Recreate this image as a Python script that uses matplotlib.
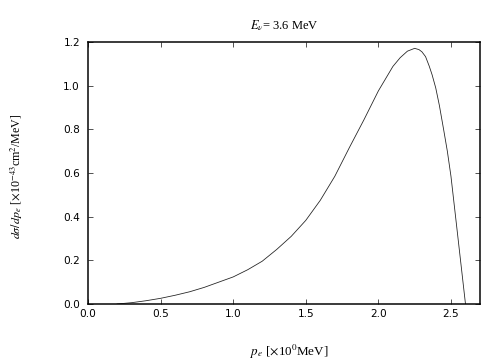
import matplotlib
matplotlib.use('Agg')
from matplotlib import pyplot as plt
from matplotlib.ticker import FormatStrFormatter

# values
p_e = [0.20, 0.30, 0.40, 0.50, 0.60, 0.70, 0.80, 0.90, 1.00, 1.10, 1.20,
       1.30, 1.40, 1.50, 1.60, 1.70, 1.80, 1.90, 2.00, 2.10, 2.15, 2.20,
       2.25, 2.28, 2.30, 2.325, 2.35, 2.37, 2.395, 2.42, 2.45, 2.475, 2.50,
       2.53, 2.565, 2.60]
dsigma = [0.0, 0.006, 0.015, 0.026, 0.040, 0.056, 0.076, 0.100, 0.124,
          0.157, 0.196, 0.250, 0.310, 0.383, 0.475, 0.585, 0.716, 0.843,
          0.976, 1.088, 1.128, 1.158, 1.171, 1.165, 1.155, 1.133, 1.090,
          1.050, 0.990, 0.910, 0.797, 0.700, 0.585, 0.410, 0.205, 0.0]
x_ticks = [0.0, 0.5, 1.0, 1.5, 2.0, 2.5]
y_ticks = [0.0, 0.2, 0.4, 0.6, 0.8, 1.0, 1.2]

plt.rcParams['mathtext.fontset'] = 'stix'

fig = plt.figure(figsize=(7, 5), dpi=72)
ax = fig.add_axes([88/504, 1 - 304/360, 392/504, 262/360])

ax.plot(p_e, dsigma, color='#222222', lw=0.8)

ax.set_xlim(0, 2.7)
ax.set_ylim(0, 1.2)
ax.set_xticks(x_ticks)
ax.set_yticks(y_ticks)
ax.xaxis.set_major_formatter(FormatStrFormatter('%.1f'))
ax.yaxis.set_major_formatter(FormatStrFormatter('%.1f'))

for s in ax.spines.values():
    s.set_linewidth(1.5)
ax.tick_params(direction='in', top=True, right=True, length=5, width=0.9,
               color='#444444', labelsize=10.5)
ax.tick_params(axis='x', pad=5)
ax.tick_params(axis='y', pad=8)
for lab in ax.get_xticklabels() + ax.get_yticklabels():
    lab.set_family('DejaVu Sans')

serif = 'Liberation Serif'
ax.set_title(r'$E_\nu$= 3.6 MeV', fontsize=12.5, family=serif, pad=13)
fig.text(289/504, 1 - 352/360, r'$p_e$ [$\times$10$^0$MeV]', fontsize=13,
         family=serif, ha='center', va='center')
fig.text(17/504, 1 - 176/360,
         r'$d\sigma/dp_e$ [$\times$10$^{-43}$cm$^2$/MeV]', fontsize=12,
         family=serif, ha='center', va='center', rotation=90)

fig.savefig('out.png', dpi=72)
